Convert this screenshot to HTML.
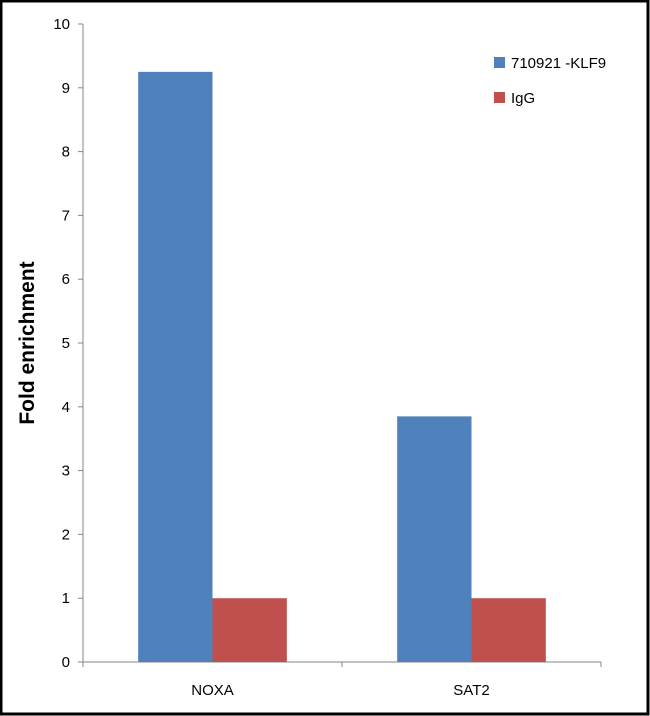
<!DOCTYPE html>
<html><head><meta charset="utf-8"><style>
html,body{margin:0;padding:0;background:#fff;}
svg{display:block;font-family:"Liberation Sans",sans-serif;}
</style></head><body>
<svg id="chart" width="650" height="716">
<rect x="1" y="1" width="647" height="713" fill="#fff" stroke="#000" stroke-width="3"/>
<g id="axes"></g><g id="bars"></g>
<text x="34" y="343" font-size="21" font-weight="bold" text-anchor="middle" transform="rotate(-90 34 343)">Fold enrichment</text>
<rect x="494" y="57" width="11" height="11" fill="#4f81bd"/>
<text x="511" y="68" font-size="15">710921 -KLF9</text>
<rect x="494" y="92" width="11" height="11" fill="#c0504d"/>
<text x="511" y="103" font-size="15">IgG</text>
</svg>
<script>
const categories=["NOXA","SAT2"];
const klf9=[9.25,3.85];
const igg=[1.0,1.0];
const yTicks=[0,1,2,3,4,5,6,7,8,9,10];
const NS="http://www.w3.org/2000/svg";
const x0=83,x1=601,y0=662,yTop=24;
const y=v=>y0-(v/10)*(y0-yTop);
const bw=(x1-x0)/categories.length;
function mk(tag,attrs,parent){const e=document.createElementNS(NS,tag);for(const k in attrs)e.setAttribute(k,attrs[k]);parent.appendChild(e);return e;}
const ax=document.getElementById('axes'),bars=document.getElementById('bars');
let l=mk('line',{x1:x0,y1:yTop,x2:x0,y2:y0,stroke:'#868686'},ax);


l=mk('line',{x1:x0,y1:y0,x2:x1,y2:y0,stroke:'#868686'},ax);


yTicks.forEach(t=>{
 const tk=mk('line',{x1:x0-5,y1:y(t),x2:x0,y2:y(t),stroke:'#868686'},ax);
 
 
 const tx=mk('text',{x:x0-13,y:y(t)+5,'font-size':15,'text-anchor':'end'},ax);
 tx.textContent=t;
 
 
});
for(let i=0;i<=categories.length;i++){
 const tk=mk('line',{x1:x0+i*bw,y1:y0,x2:x0+i*bw,y2:y0+5,stroke:'#868686'},ax);
 
 
}
categories.forEach((c,i)=>{
 const cx=x0+i*bw+bw/2, w=bw*0.287;
 const b1=mk('rect',{x:cx-w,y:y(klf9[i]),width:w,height:y0-y(klf9[i]),fill:'#4f81bd'},bars);
 
 
 const b2=mk('rect',{x:cx,y:y(igg[i]),width:w,height:y0-y(igg[i]),fill:'#c0504d'},bars);
 
 
 const tx=mk('text',{x:cx,y:y0+33,'font-size':15,'text-anchor':'middle'},ax);
 tx.textContent=c;
 
 
});
</script>
</body></html>
